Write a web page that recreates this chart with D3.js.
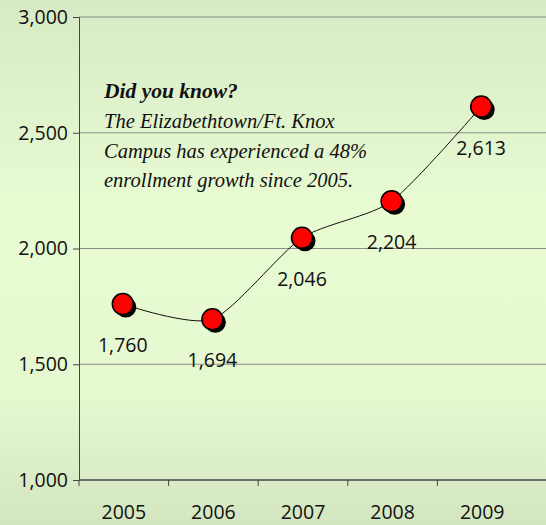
<!DOCTYPE html>
<html>
<head>
<meta charset="utf-8">
<script src="https://cdn.jsdelivr.net/npm/d3@7"></script>
<style>
  body { margin: 0; }
  svg { display: block; }
</style>
</head>
<body>
<div id="chart"></div>
<script>
'use strict';

var years = ['2005', '2006', '2007', '2008', '2009'];
var enrollment = [1760, 1694, 2046, 2204, 2613];
var yTicks = [1000, 1500, 2000, 2500, 3000];
var noteLines = [
  'The Elizabethtown/Ft. Knox',
  'Campus has experienced a 48%',
  'enrollment growth since 2005.'
];

var W = 546, H = 525;
var plotLeft = 79, plotTop = 17, plotRight = 527, plotBottom = 480;
var sansFont = 'Open Sans, DejaVu Sans, sans-serif';

var svg = d3.select('#chart').append('svg')
  .attr('width', W)
  .attr('height', H);

var defs = svg.append('defs');
var grad = defs.append('linearGradient')
  .attr('id', 'bg')
  .attr('x1', 0).attr('y1', 0).attr('x2', 0).attr('y2', 1);
grad.append('stop').attr('offset', '0%').attr('stop-color', '#d6eac4');
grad.append('stop').attr('offset', '40%').attr('stop-color', '#e8fbd3');
grad.append('stop').attr('offset', '75%').attr('stop-color', '#e5f8d0');
grad.append('stop').attr('offset', '100%').attr('stop-color', '#d4e6c0');

svg.append('rect')
  .attr('width', W).attr('height', H)
  .attr('fill', 'url(#bg)');

var x = d3.scaleBand()
  .domain(years)
  .range([plotLeft, plotRight]);

var y = d3.scaleLinear()
  .domain([1000, 3000])
  .range([plotBottom, plotTop]);

// gridlines
svg.append('g')
  .selectAll('line')
  .data(yTicks.slice(1))
  .join('line')
  .attr('x1', plotLeft).attr('x2', W)
  .attr('y1', function(d) { return y(d); })
  .attr('y2', function(d) { return y(d); })
  .attr('stroke', '#8a8f86')
  .attr('stroke-width', 1);

// y axis
var yAxis = svg.append('g')
  .attr('transform', 'translate(' + plotLeft + ',0)')
  .call(d3.axisLeft(y).tickValues(yTicks).tickSize(6).tickPadding(5)
    .tickFormat(d3.format(',')));
yAxis.select('.domain').attr('stroke', '#444');
yAxis.selectAll('.tick line').attr('stroke', '#444');
yAxis.selectAll('text')
  .attr('font-family', sansFont)
  .attr('font-size', '19.5px')
  .attr('fill', '#111');

// x axis
var xAxis = svg.append('g')
  .attr('transform', 'translate(0,' + plotBottom + ')')
  .call(d3.axisBottom(x).tickSize(0).tickPadding(25));
xAxis.select('.domain').attr('d', 'M' + plotLeft + ',0H' + W).attr('stroke', '#444').attr('stroke-width', 1.5);
xAxis.selectAll('text')
  .attr('font-family', sansFont)
  .attr('font-size', '19.5px')
  .attr('fill', '#111');

// band separators on x axis
svg.append('g')
  .selectAll('line')
  .data(years)
  .join('line')
  .attr('x1', function(d) { return x(d); })
  .attr('x2', function(d) { return x(d); })
  .attr('y1', plotBottom)
  .attr('y2', plotBottom + 6)
  .attr('stroke', '#444');

function cx(i) { return x(years[i]) + x.bandwidth() / 2 - 1; }

var line = d3.line()
  .x(function(d, i) { return cx(i); })
  .y(function(d) { return y(d); })
  .curve(d3.curveCardinal.tension(0.3));

svg.append('path')
  .datum(enrollment)
  .attr('d', line)
  .attr('fill', 'none')
  .attr('stroke', '#111')
  .attr('stroke-width', 1);

// marker shadows
svg.append('g')
  .selectAll('circle')
  .data(enrollment)
  .join('circle')
  .attr('cx', function(d, i) { return cx(i) + 3; })
  .attr('cy', function(d) { return y(d) + 3; })
  .attr('r', 10.5)
  .attr('fill', '#000');

// markers
svg.append('g')
  .selectAll('circle')
  .data(enrollment)
  .join('circle')
  .attr('cx', function(d, i) { return cx(i); })
  .attr('cy', function(d) { return y(d); })
  .attr('r', 10.5)
  .attr('fill', '#ff0000')
  .attr('stroke', '#000')
  .attr('stroke-width', 1.5);

// data labels
svg.append('g')
  .selectAll('text')
  .data(enrollment)
  .join('text')
  .attr('x', function(d, i) { return cx(i); })
  .attr('y', function(d) { return y(d) + 48; })
  .attr('text-anchor', 'middle')
  .attr('font-family', sansFont)
  .attr('font-size', '19.5px')
  .attr('fill', '#111')
  .text(d3.format(','));

// annotation
var note = svg.append('g')
  .attr('font-family', 'Liberation Serif, DejaVu Serif, serif')
  .attr('font-style', 'italic')
  .attr('fill', '#111');

note.append('text')
  .attr('x', 104).attr('y', 98)
  .attr('font-size', '21.5px')
  .attr('font-weight', 'bold')
  .text('Did you know?');

note.selectAll('text.line')
  .data(noteLines)
  .join('text')
  .attr('class', 'line')
  .attr('x', 104)
  .attr('y', function(d, i) { return 128 + i * 29.5; })
  .attr('font-size', '20.5px')
  .text(function(d) { return d; });
</script>
</body>
</html>
